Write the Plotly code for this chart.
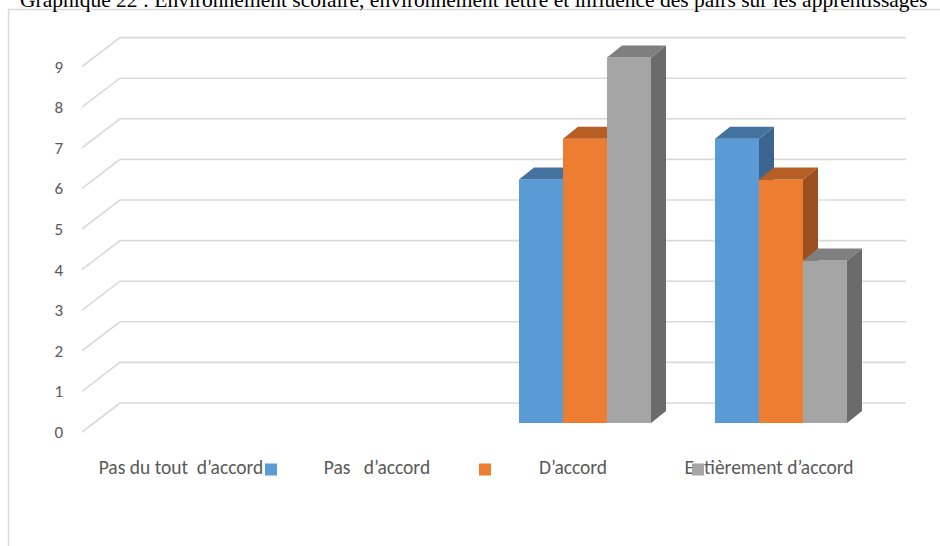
import plotly.graph_objects as go

# ---- data -------------------------------------------------------------
categories = [
    "Pas du tout\u00a0 d’accord",
    "Pas \u00a0 d’accord",
    "D’accord",
    "Entièrement d’accord",
]
series_1 = [0, 0, 6, 7]
series_2 = [0, 0, 7, 6]
series_3 = [0, 0, 9, 4]
y_ticks = [0, 1, 2, 3, 4, 5, 6, 7, 8, 9]
title_text = ("Graphique 22 : Environnement scolaire, environnement lettré "
              "et influence des pairs sur les apprentissages")

# ---- styling ----------------------------------------------------------
W, H = 940, 546
L, R, T, B = 82, 920, 20, 440          # plot area in pixels
CAT0_PX, CAT_STEP_PX = 193, 196        # first category centre / spacing
ZERO_PX, UNIT_PX = 423, 40.6           # value 0 on bar fronts / px per unit

X_RANGE = [(L - CAT0_PX) / CAT_STEP_PX, (R - CAT0_PX) / CAT_STEP_PX]
Y_RANGE = [(ZERO_PX - B) / UNIT_PX, (ZERO_PX - T) / UNIT_PX]

BAR_W = 44 / CAT_STEP_PX               # width of one bar
DEPTH_DX = 15 / CAT_STEP_PX            # oblique depth of a bar
DEPTH_DY = 12 / UNIT_PX
WALL_DY = 20 / UNIT_PX                 # back wall sits above bar fronts
FLOOR_DY = -9 / UNIT_PX                # front floor edge sits below
WALL_X0 = (120 - CAT0_PX) / CAT_STEP_PX
WALL_X1 = (906 - CAT0_PX) / CAT_STEP_PX
LABEL_SHIFT = -12 / CAT_STEP_PX

FONT = "Carlito, Lato, sans-serif"
TEXT_COLOR = "#595959"
GRID_COLOR = "#D9D9D9"

faces = [
    # front, top, side
    ("#5B9BD5", "#4472A0", "#3B6590"),
    ("#ED7D31", "#B65E23", "#9C501F"),
    ("#A5A5A5", "#7F7F7F", "#6B6B6B"),
]
all_series = [series_1, series_2, series_3]

fig = go.Figure()

# ---- 3-D style gridlines: left wall diagonal + back wall line ----------
gx, gy = [], []
for v in y_ticks:
    gx += [X_RANGE[0], WALL_X0, WALL_X1, None]
    gy += [v + FLOOR_DY, v + WALL_DY, v + WALL_DY, None]
fig.add_trace(go.Scatter(x=gx, y=gy, mode="lines",
                         line=dict(color=GRID_COLOR, width=1.6),
                         hoverinfo="skip", showlegend=False,
                         xaxis="x", yaxis="y"))

# ---- columns: one overlaid subplot per series keeps painter's order ----
for k, (vals, (c_front, c_top, c_side)) in enumerate(zip(all_series, faces)):
    ax = str(k + 2)
    offset = -1.5 * BAR_W + k * BAR_W
    fig.add_trace(go.Bar(
        x=list(range(len(categories))), y=vals,
        offset=offset, width=BAR_W,
        marker=dict(color=c_front, line=dict(width=0)),
        name=" ", legend="legend" if k == 0 else f"legend{k + 1}",
        xaxis="x" + ax, yaxis="y" + ax,
    ))
    tx, ty, sx, sy = [], [], [], []
    for i, v in enumerate(vals):
        if v <= 0:
            continue
        x0 = i + offset
        x1 = x0 + BAR_W
        tx += [x0, x1, x1 + DEPTH_DX, x0 + DEPTH_DX, x0, None]
        ty += [v, v, v + DEPTH_DY, v + DEPTH_DY, v, None]
        sx += [x1, x1, x1 + DEPTH_DX, x1 + DEPTH_DX, x1, None]
        sy += [0, v, v + DEPTH_DY, DEPTH_DY, 0, None]
    fig.add_trace(go.Scatter(x=sx, y=sy, mode="lines", fill="toself",
                             fillcolor=c_side, line=dict(width=0, color=c_side),
                             hoverinfo="skip", showlegend=False,
                             xaxis="x" + ax, yaxis="y" + ax))
    fig.add_trace(go.Scatter(x=tx, y=ty, mode="lines", fill="toself",
                             fillcolor=c_top, line=dict(width=0, color=c_top),
                             hoverinfo="skip", showlegend=False,
                             xaxis="x" + ax, yaxis="y" + ax))


def px_x(px):
    return (px - L) / (R - L)


def px_y(py):
    return (B - py) / (B - T)


hidden = dict(range=X_RANGE, visible=False, fixedrange=True)
hidden_y = dict(range=Y_RANGE, visible=False, fixedrange=True)

legend_common = dict(orientation="h", bgcolor="rgba(0,0,0,0)",
                     font=dict(size=10), xanchor="left", yanchor="top",
                     itemclick=False, itemdoubleclick=False)
legend_px = [276, 490, 703]

fig.update_layout(
    width=W, height=H,
    margin=dict(l=L, r=W - R, t=T, b=H - B, pad=0),
    paper_bgcolor="white", plot_bgcolor="white",
    barmode="overlay",
    font=dict(family=FONT, color=TEXT_COLOR),
    xaxis=dict(range=X_RANGE, showgrid=False, zeroline=False, showline=False,
               tickmode="array",
               tickvals=[i + LABEL_SHIFT for i in range(len(categories))],
               ticktext=categories, ticks="", ticklabelstandoff=13,
               tickfont=dict(size=19.5, color=TEXT_COLOR, family=FONT),
               fixedrange=True),
    yaxis=dict(range=Y_RANGE, showgrid=False, zeroline=False, showline=False,
               tickmode="array", tickvals=[v + FLOOR_DY for v in y_ticks],
               ticktext=[str(v) for v in y_ticks], ticks="",
               ticklabelstandoff=18,
               tickfont=dict(size=17, color=TEXT_COLOR, family=FONT),
               fixedrange=True),
    xaxis2=dict(overlaying="x", **hidden), yaxis2=dict(overlaying="y", **hidden_y),
    xaxis3=dict(overlaying="x", **hidden), yaxis3=dict(overlaying="y", **hidden_y),
    xaxis4=dict(overlaying="x", **hidden), yaxis4=dict(overlaying="y", **hidden_y),
    legend=dict(x=px_x(legend_px[0] - 25), y=px_y(455), **legend_common),
    legend2=dict(x=px_x(legend_px[1] - 25), y=px_y(455), **legend_common),
    legend3=dict(x=px_x(legend_px[2] - 25), y=px_y(455), **legend_common),
    shapes=[dict(type="rect", xref="paper", yref="paper", layer="below",
                 x0=px_x(8.5), x1=px_x(960), y0=px_y(570), y1=px_y(9.5),
                 line=dict(color=GRID_COLOR, width=1.5), fillcolor="white")],
    annotations=[dict(text=title_text, xref="paper", yref="paper",
                      x=px_x(473), y=px_y(0), xanchor="center", yanchor="middle",
                      showarrow=False,
                      font=dict(family="Liberation Serif, Times New Roman, serif",
                                size=21.5, color="#000000"))],
)

fig.write_html("out.html")
